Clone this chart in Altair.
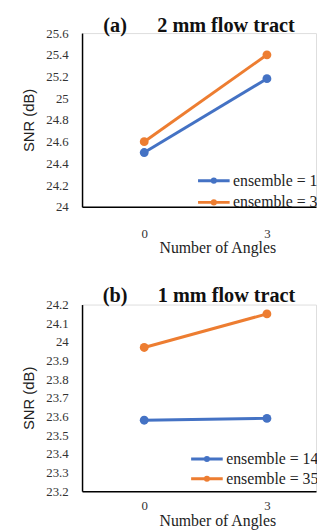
import altair as alt
import pandas as pd

angles = [0, 3]
series = ["ensemble = 14", "ensemble = 35"]
colors = ["#4472C4", "#ED7D31"]

a_e14 = [24.50, 25.18]
a_e35 = [24.60, 25.40]
b_e14 = [23.58, 23.59]
b_e35 = [23.97, 24.15]

a_ticks = [24.0, 24.2, 24.4, 24.6, 24.8, 25.0, 25.2, 25.4, 25.6]
b_ticks = [23.2, 23.3, 23.4, 23.5, 23.6, 23.7, 23.8, 23.9, 24.0, 24.1, 24.2]


def make_df(v14, v35):
    rows = []
    for a, v in zip(angles, v14):
        rows.append({"angle": a, "snr": v, "series": series[0]})
    for a, v in zip(angles, v35):
        rows.append({"angle": a, "snr": v, "series": series[1]})
    return pd.DataFrame(rows)


SYMBOL = "M-2,0L2,0M-0.2,0A0.2,0.2,0,1,1,0.2,0A0.2,0.2,0,1,1,-0.2,0Z"
SERIF = "Liberation Serif"
SANS = "Liberation Sans"
GAP = "\u00a0" * 6


def panel(df, title, ticks, h, lx, ly, rowpad, xlabpad, xtitlepad, toff):
    color = alt.Color(
        "series:N",
        scale=alt.Scale(domain=series, range=colors),
        legend=alt.Legend(
            orient="none", legendX=lx, legendY=ly, title=None,
            symbolType=SYMBOL, symbolSize=256, symbolStrokeWidth=3,
            labelFont=SERIF, labelFontSize=16, labelColor="#222",
            labelOffset=10, rowPadding=rowpad, labelLimit=200,
        ),
    )
    x = alt.X(
        "angle:Q",
        scale=alt.Scale(domain=[-1.52, 4.2], nice=False, zero=False),
        axis=alt.Axis(
            values=angles, format="d", ticks=False, grid=False,
            domainColor="#000", domainWidth=1.5,
            labelFont=SERIF, labelFontSize=13, labelColor="#333",
            labelPadding=xlabpad,
            title="Number of Angles", titleFont=SERIF, titleFontSize=16,
            titleFontWeight="normal", titleColor="#222",
            titleX=137, titlePadding=xtitlepad,
        ),
    )
    y = alt.Y(
        "snr:Q",
        scale=alt.Scale(domain=[ticks[0], ticks[-1]], nice=False, zero=False),
        axis=alt.Axis(
            values=ticks, format=".1~f", ticks=False, grid=False,
            domainColor="#000", domainWidth=1.5,
            labelFont=SERIF, labelFontSize=13, labelColor="#333",
            labelPadding=14,
            title="SNR (dB)", titleFont=SANS, titleFontSize=15,
            titleFontWeight="normal", titleColor="#222", titlePadding=9,
        ),
    )
    return (
        alt.Chart(df)
        .mark_line(strokeWidth=3, point=alt.OverlayMarkDef(size=80, filled=True))
        .encode(x=x, y=y, color=color)
        .properties(
            width=237, height=h,
            title=alt.TitleParams(
                title, font=SERIF, fontSize=20.5, fontWeight="bold",
                color="#111", anchor="middle", offset=toff,
            ),
        )
    )


pa = panel(make_df(a_e14, a_e35), "(a)" + GAP + "2 mm flow tract",
           a_ticks, 176, 124, 140, 4, 21, -1, -9)
pb = panel(make_df(b_e14, b_e35), "(b)" + GAP + "1 mm flow tract",
           b_ticks, 189, 117, 147, 2, 9, 0, -8)

chart = (
    alt.vconcat(pa, pb, spacing=30)
    .resolve_scale(color="independent")
    .resolve_legend(color="independent")
    .properties(padding={"left": 13, "top": 4, "right": -10, "bottom": 0})
    .configure_view(stroke=None)
    .configure(background="white")
)

chart.save("out.html", embed_options={"renderer": "svg", "actions": False})
